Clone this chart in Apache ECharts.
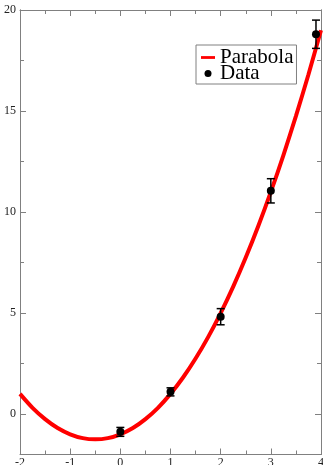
<!DOCTYPE html>
<html>
<head>
<meta charset="utf-8">
<script src="https://cdn.jsdelivr.net/npm/echarts@6/dist/echarts.min.js"></script>
<style>
  html, body { margin: 0; padding: 0; background: #fff; }
  #chart { width: 323px; height: 465px; }
</style>
</head>
<body>
<div id="chart"></div>
<script>
// Measured points with their vertical uncertainties
const dataX = [0, 1, 2, 3, 3.9];
const dataY = [-0.88, 1.1, 4.82, 11.05, 18.8];
const dataErr = [0.22, 0.2, 0.4, 0.6, 0.7];

// Fitted parabola, sampled along x
const curveX = [-2, -1.75, -1.5, -1.25, -1, -0.75, -0.5, -0.25, 0, 0.25, 0.5, 0.75, 1,
                1.25, 1.5, 1.75, 2, 2.25, 2.5, 2.75, 3, 3.25, 3.5, 3.75, 4];
const curveY = [1.0, 0.31, -0.25, -0.69, -1.0, -1.19, -1.25, -1.19, -1.0, -0.69, -0.25, 0.31, 1.0,
                1.81, 2.75, 3.81, 5.0, 6.31, 7.75, 9.31, 11.0, 12.81, 14.75, 16.81, 19.0];

// Axis ticks
const xMin = -2, xMax = 4;
const yMin = -2, yMax = 20;
const yMajor = [0, 5, 10, 15, 20];
const yMinor = [2.5, 7.5, 12.5, 17.5];

const axisColor = '#808080';
const labelFont = { fontFamily: 'Liberation Serif', fontSize: 12, color: '#222' };

function xAxisDef(pos, showLabel) {
  return {
    type: 'value', position: pos, min: xMin, max: xMax, interval: 1,
    axisLine: { show: true, onZero: false, lineStyle: { color: axisColor, width: 1 } },
    axisTick: { show: true, inside: true, length: 6, lineStyle: { color: axisColor } },
    minorTick: { show: true, splitNumber: 2, length: 4, lineStyle: { color: axisColor } },
    axisLabel: Object.assign({ show: showLabel, margin: 2 }, labelFont),
    splitLine: { show: false }
  };
}

function yAxisDef(pos, ticks, len, showLabel) {
  return {
    type: 'value', position: pos, min: yMin, max: yMax,
    axisLine: { show: true, onZero: false, lineStyle: { color: axisColor, width: 1 } },
    axisTick: { show: true, inside: true, length: len, customValues: ticks, lineStyle: { color: axisColor } },
    axisLabel: Object.assign({ show: showLabel, margin: 4, customValues: yMajor }, labelFont),
    splitLine: { show: false }
  };
}

const chart = echarts.init(document.getElementById('chart'), null, { renderer: 'canvas' });

chart.setOption({
  animation: false,
  backgroundColor: '#fff',
  grid: { left: 20, right: 2, top: 10, bottom: 10.5, containLabel: false, outerBoundsMode: 'none' },
  xAxis: [xAxisDef('bottom', true), xAxisDef('top', false)],
  yAxis: [
    yAxisDef('left', yMajor, 6, true),
    yAxisDef('right', yMajor, 6, false),
    yAxisDef('left', yMinor, 4, false),
    yAxisDef('right', yMinor, 4, false)
  ],
  legend: {
    orient: 'vertical',
    left: 196, top: 45,
    padding: [2, 3, 0, 5],
    borderColor: axisColor, borderWidth: 1,
    backgroundColor: '#fff',
    itemGap: -5, itemWidth: 14, itemHeight: 8,
    textStyle: { fontFamily: 'Liberation Serif', fontSize: 21, color: '#000' },
    data: [
      { name: 'Parabola', icon: 'path://M0,0 M0,2.6 L14,2.6 L14,5.4 L0,5.4 Z M14,8' },
      { name: 'Data', icon: 'path://M0,0 M10.5,4 A3.5,3.5 0 1 1 3.5,4 A3.5,3.5 0 1 1 10.5,4 Z M14,8', itemStyle: { opacity: 1 } }
    ]
  },
  series: [
    {
      name: 'Parabola',
      type: 'line',
      smooth: 0.3,
      showSymbol: false,
      data: curveX.map((x, i) => [x, curveY[i]]),
      lineStyle: { color: '#ff0000', width: 4 },
      itemStyle: { color: '#ff0000' },
      z: 2
    },
    {
      name: 'errors',
      type: 'custom',
      data: dataX.map((x, i) => [x, dataY[i], dataErr[i]]),
      encode: { x: 0, y: 1 },
      renderItem: function (params, api) {
        const x = api.value(0), y = api.value(1), e = api.value(2);
        const top = api.coord([x, y + e]);
        const bot = api.coord([x, y - e]);
        const hw = 4;
        const st = { stroke: '#000', lineWidth: 1.5 };
        return {
          type: 'group',
          children: [
            { type: 'line', shape: { x1: top[0], y1: top[1], x2: bot[0], y2: bot[1] }, style: st },
            { type: 'line', shape: { x1: top[0] - hw, y1: top[1], x2: top[0] + hw, y2: top[1] }, style: st },
            { type: 'line', shape: { x1: bot[0] - hw, y1: bot[1], x2: bot[0] + hw, y2: bot[1] }, style: st }
          ]
        };
      },
      z: 3
    },
    {
      name: 'Data',
      type: 'scatter',
      symbol: 'circle',
      symbolSize: 8,
      data: dataX.map((x, i) => [x, dataY[i]]),
      itemStyle: { color: '#000', opacity: 1 },
      z: 4
    }
  ]
});
</script>
</body>
</html>
